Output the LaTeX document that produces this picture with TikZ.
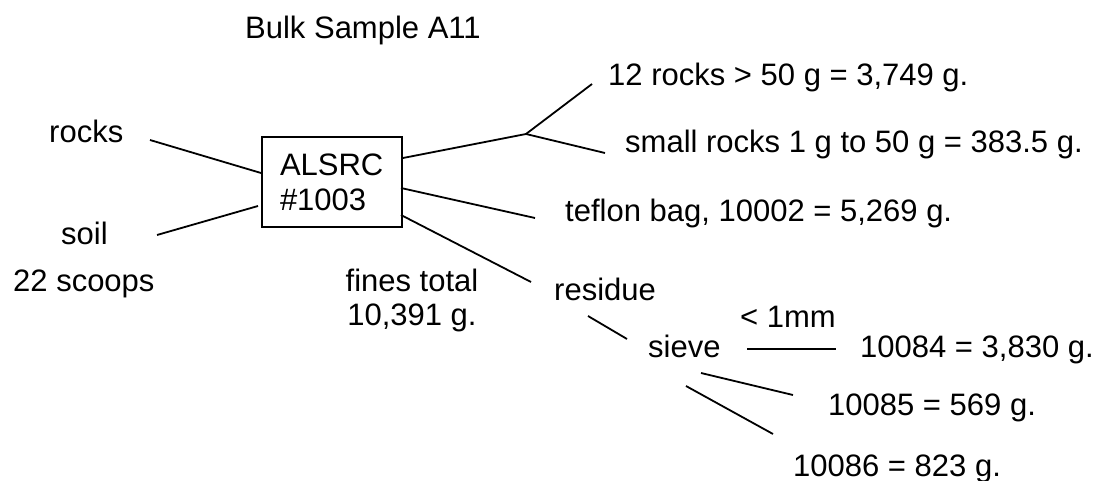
\documentclass[tikz,border=0pt]{standalone}
\usepackage{fontspec}
\setmainfont{Liberation Sans}
\begin{document}
\begin{tikzpicture}[x=1pt,y=-1pt,
  lbl/.style={anchor=base west,inner sep=0pt,font=\fontsize{31}{35.6}\selectfont},
  conn/.style={line width=1.8pt,line cap=butt},
  boxnode/.style={draw,line width=1.8pt,minimum width=140pt,minimum height=90pt,
    inner sep=0pt,align=left,text width=104pt,font=\fontsize{31}{35}\selectfont}]
\useasboundingbox (0,0) rectangle (1101,481);
% texts
\node[lbl] (title) at (245,39) {Bulk Sample A11};
\node[lbl] (rocks) at (49,143) {rocks};
\node[lbl] (soil) at (61,245) {soil};
\node[lbl] (scoops) at (13,291) {22 scoops};
\node[boxnode] (box) at (332,182) {ALSRC\\\#1003};
\node[lbl] (big) at (608,86) {12 rocks > 50 g = 3,749 g.};
\node[lbl] (small) at (625,153) {small rocks 1 g to 50 g = 383.5 g.};
\node[lbl] (teflon) at (565,222) {teflon bag, 10002 = 5,269 g.};
\node[anchor=base,inner sep=0pt,align=center,font=\fontsize{31}{35}\selectfont] (fines) at (412,326) {fines total\\10,391 g.};
\node[lbl] (residue) at (554,301) {residue};
\node[lbl] (mm) at (740,327) {< 1mm};
\node[lbl] (sieve) at (648,357) {sieve};
\node[lbl] (s84) at (860,357) {10084 = 3,830 g.};
\node[lbl] (s85) at (828,415) {10085 = 569 g.};
\node[lbl] (s86) at (793,476) {10086 = 823 g.};
% connector end points
\coordinate (rocksE) at (150,140);
\coordinate (boxR1) at (261,173);
\coordinate (soilE) at (157,235);
\coordinate (boxS1) at (258,206);
\coordinate (boxO1) at (403,158);
\coordinate (junc) at (526,134);
\coordinate (bigE) at (592,84);
\coordinate (smallE) at (605,153);
\coordinate (boxO2) at (401,188);
\coordinate (teflonE) at (535,218);
\coordinate (boxO3) at (401,215);
\coordinate (residueE) at (531,282);
\coordinate (residueS) at (588,316);
\coordinate (sieveN) at (627,339);
\coordinate (sieveE) at (747,349);
\coordinate (mmE) at (836,349);
\coordinate (sieveS1) at (701,373);
\coordinate (s85E) at (793,395);
\coordinate (sieveS2) at (686,386);
\coordinate (s86E) at (773,434);
% connectors
\draw[conn] (rocksE) -- (boxR1);
\draw[conn] (soilE) -- (boxS1);
\draw[conn] (boxO1) -- (junc);
\draw[conn] (junc) -- (bigE);
\draw[conn] (junc) -- (smallE);
\draw[conn] (boxO2) -- (teflonE);
\draw[conn] (boxO3) -- (residueE);
\draw[conn] (residueS) -- (sieveN);
\draw[conn] (sieveE) -- (mmE);
\draw[conn] (sieveS1) -- (s85E);
\draw[conn] (sieveS2) -- (s86E);
\end{tikzpicture}
\end{document}
